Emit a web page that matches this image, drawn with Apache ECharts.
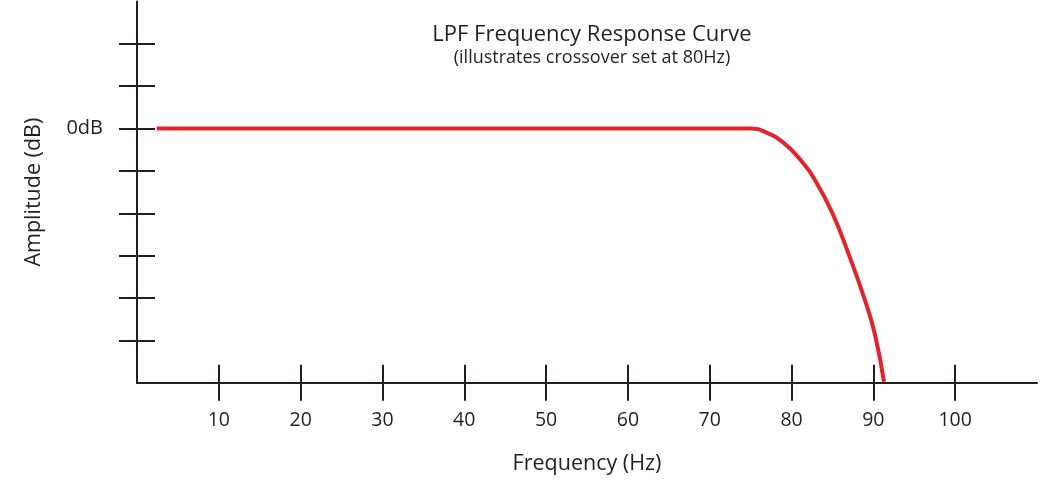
<!DOCTYPE html>
<html><head><meta charset="utf-8">
<script src="https://cdn.jsdelivr.net/npm/echarts@6/dist/echarts.min.js"></script>
<style>html,body{margin:0;padding:0;background:#fff}#c{width:1040px;height:488px}</style>
</head><body><div id="c"></div>
<script>
// Data
const freqHz = [2.4, 71, 73, 75, 77, 79, 81, 83, 85, 87, 89, 90.2, 91.3];
const ampDb  = [0, 0, 0, 0, -0.3, -1.0, -2.15, -3.78, -6.0, -8.93, -12.2, -14.6, -17.94];
const xTicks = [10, 20, 30, 40, 50, 60, 70, 80, 90, 100];
const yTicks = [-15, -12, -9, -6, -3, 0, 3, 6];
const yLabels = [0];

const axisColor = '#231f20';
const font = '"Open Sans", "Noto Sans", sans-serif';
const chart = echarts.init(document.getElementById('c'));
const baseX = {type: 'value', min: 0, max: 110, position: 'bottom', splitLine: {show: false}};
const baseY = {type: 'value', min: -18, max: 9, position: 'left', splitLine: {show: false}};
chart.setOption({
  animation: false,
  title: {
    text: 'LPF Frequency Response Curve',
    subtext: '(illustrates crossover set at 80Hz)',
    left: 587, top: 18, textAlign: 'center', itemGap: 1,
    textStyle: {fontFamily: font, fontSize: 22, fontWeight: 'normal', color: '#231f20', lineHeight: 24},
    subtextStyle: {fontFamily: font, fontSize: 18, color: '#231f20', lineHeight: 20}
  },
  grid: {left: 137, right: 3, top: 1.5, bottom: 105.3, containLabel: false},
  xAxis: [
    Object.assign({}, baseX, {
      name: 'Frequency (Hz)', nameLocation: 'middle', nameGap: 70,
      nameTextStyle: {fontFamily: font, fontSize: 21.5, color: axisColor},
      axisLine: {show: true, onZero: false, lineStyle: {color: axisColor, width: 2}},
      axisTick: {show: true, customValues: xTicks, length: 18, inside: false, lineStyle: {color: axisColor, width: 2}},
      axisLabel: {show: true, customValues: xTicks, margin: 28, fontFamily: font, fontSize: 19.5, color: axisColor}
    }),
    Object.assign({}, baseX, {
      axisLine: {show: false, onZero: false},
      axisTick: {show: true, customValues: xTicks, length: 18, inside: true, lineStyle: {color: axisColor, width: 2}},
      axisLabel: {show: false}
    })
  ],
  yAxis: [
    Object.assign({}, baseY, {
      name: 'Amplitude (dB)', nameLocation: 'middle', nameGap: 92, nameRotate: 90,
      nameTextStyle: {fontFamily: font, fontSize: 21.5, color: axisColor},
      axisLine: {show: true, onZero: false, lineStyle: {color: axisColor, width: 2}},
      axisTick: {show: true, customValues: yTicks, length: 18, inside: false, lineStyle: {color: axisColor, width: 2}},
      axisLabel: {show: true, customValues: yLabels, margin: 34, fontFamily: font, fontSize: 20, color: axisColor,
                  formatter: v => v + 'dB'}
    }),
    Object.assign({}, baseY, {
      axisLine: {show: false, onZero: false},
      axisTick: {show: true, customValues: yTicks, length: 18, inside: true, lineStyle: {color: axisColor, width: 2}},
      axisLabel: {show: false}
    })
  ],
  series: [{
    type: 'line', xAxisIndex: 0, yAxisIndex: 0,
    data: freqHz.map((f, i) => [f, ampDb[i]]),
    smooth: 0.5, showSymbol: false, symbol: 'none',
    lineStyle: {color: '#e3232b', width: 4}
  }]
});
</script></body></html>
